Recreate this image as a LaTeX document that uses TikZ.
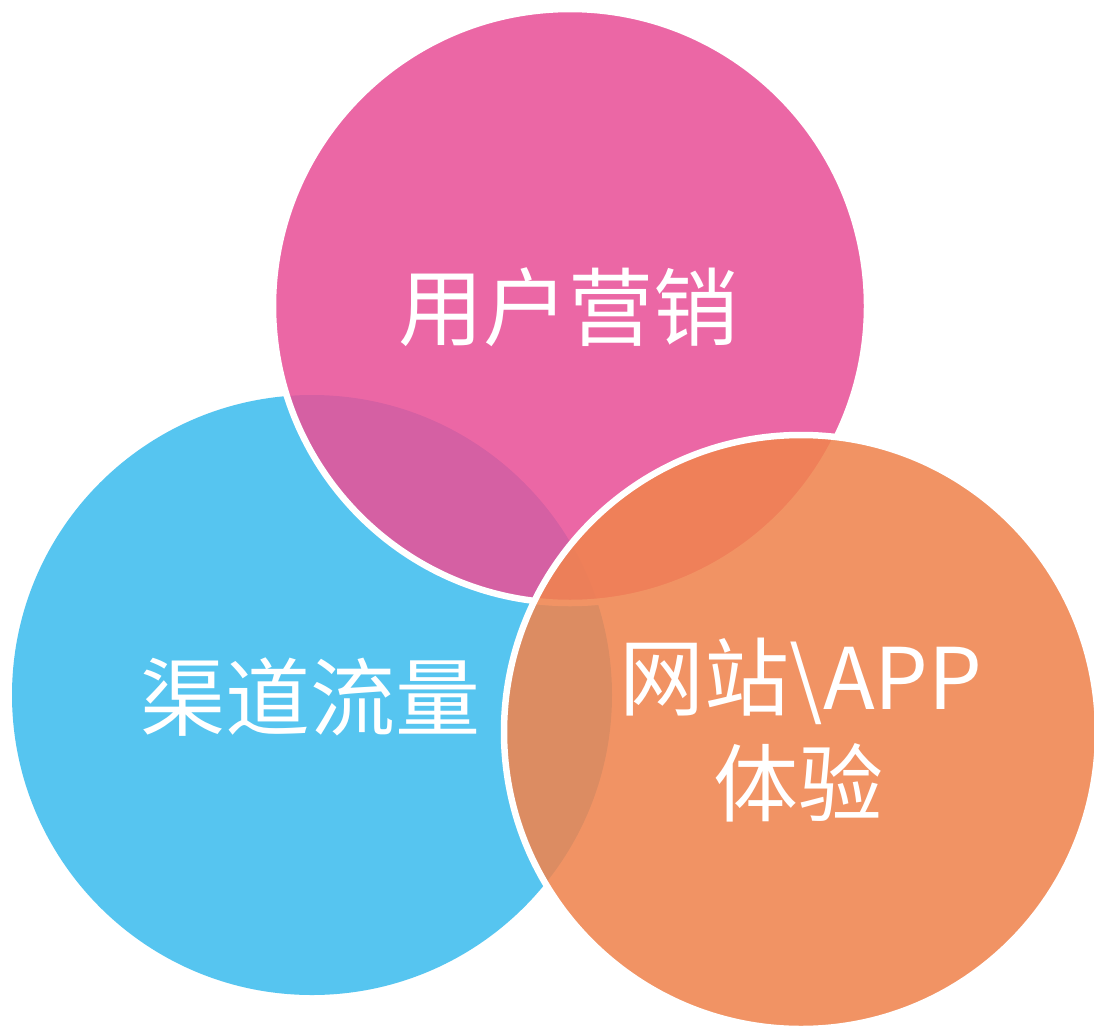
\documentclass[tikz,border=0pt]{standalone}
\usepackage{fontspec}
\newfontfamily\cjk{Noto Sans CJK SC}
\definecolor{cblue}{RGB}{86,197,240}
\definecolor{cpink}{RGB}{233,81,152}
\definecolor{corange}{RGB}{240,132,78}
\tikzset{
  bubble/.style={fill opacity=0.87, draw=white, draw opacity=1, line width=6.5pt},
  lbl/.style={text=white, inner sep=0pt, font=\cjk\fontsize{85}{103}\selectfont}
}
\begin{document}
\begin{tikzpicture}[x=1pt,y=-1pt]
\useasboundingbox (0,0) rectangle (1094,1025);
\clip (0,0) rectangle (1094,1025);
\fill[white] (0,0) rectangle (1094,1025);
% circles
\fill[cblue] (312,695) circle [radius=300];
\path[bubble, fill=cpink] (570,306) circle [radius=297];
\path[bubble, fill=corange] (801,732) circle [radius=297];
% labels
\node[lbl] (user) at (568,307) {用户营销};
\node[lbl] (chan) at (310,697) {渠道流量};
\node[lbl] (web) at (801,681) {网站\textbackslash APP};
\node[lbl] (exp) at (798,783) {体验};
\end{tikzpicture}
\end{document}
